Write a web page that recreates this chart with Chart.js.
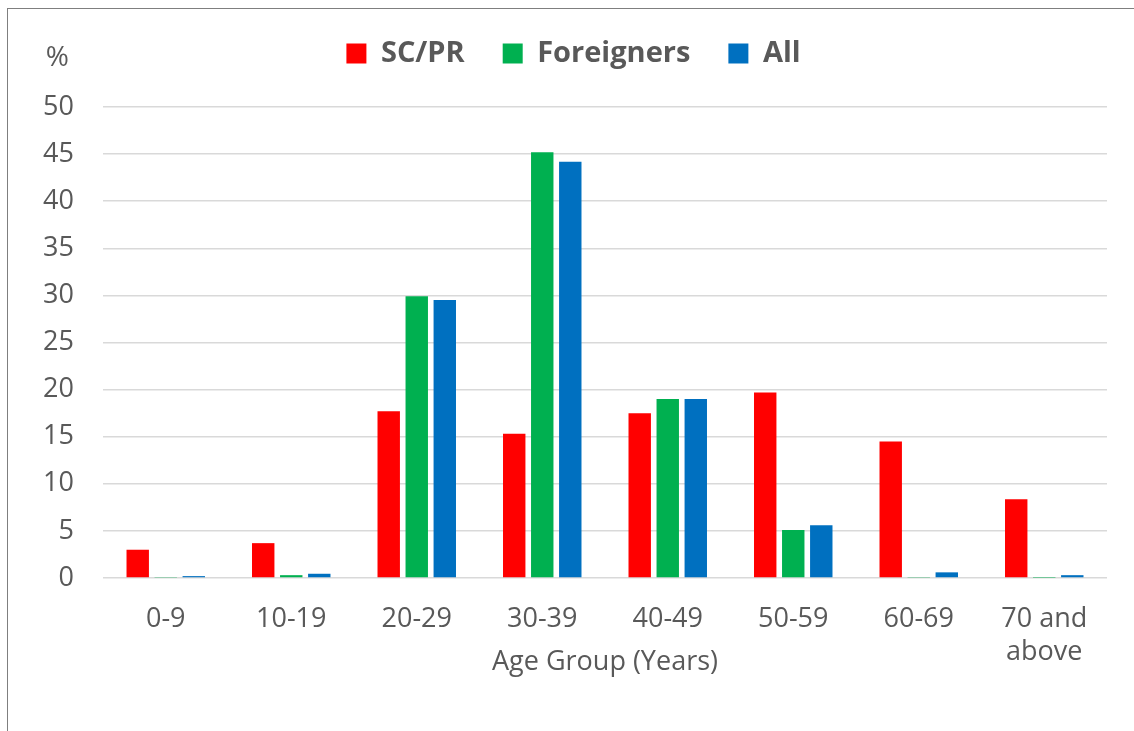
<!DOCTYPE html>
<html>
<head>
<meta charset="utf-8">
<script src="https://cdn.jsdelivr.net/npm/chart.js@4.4.0/dist/chart.umd.min.js"></script>
<style>
  body { margin: 0; background: #fff; overflow: hidden; }
  #frame {
    position: absolute; left: 7px; top: 8px;
    width: 1140px; height: 740px;
    border-left: 1px solid #7f7f7f; border-top: 1px solid #7f7f7f;
  }
  #wrap { width: 1126px; height: 722px; }
</style>
</head>
<body>
<div id="frame"><div id="wrap"><canvas id="barChart"></canvas></div></div>
<script>
const ageGroups = ["0-9", "10-19", "20-29", "30-39", "40-49", "50-59", "60-69", ["70 and", "above"]];
const scpr = [3.0, 3.7, 17.7, 15.3, 17.5, 19.7, 14.5, 8.35];
const foreigners = [0.05, 0.3, 29.9, 45.2, 19.0, 5.1, 0.05, 0.03];
const all = [0.2, 0.45, 29.5, 44.2, 19.0, 5.6, 0.6, 0.3];
const yTicks = [0, 5, 10, 15, 20, 25, 30, 35, 40, 45, 50];

const textColor = "#595959";
const fontFamily = "'Open Sans', sans-serif";

// "%" label above the y axis, and a fixed legend height / offset
const percentLabel = {
  id: "percentLabel",
  beforeUpdate(chart) {
    const legend = chart.legend;
    if (legend && !legend._fixed) {
      const fit = legend.fit;
      legend.fit = function () {
        fit.call(this);
        this.height = 106;
      };
      legend._fixed = true;
    }
  },
  afterLayout(chart) {
    chart.legend.left += 16;
    chart.legend.right += 16;
  },
  afterDraw(chart) {
    const ctx = chart.ctx;
    const area = chart.chartArea;
    ctx.save();
    ctx.fillStyle = textColor;
    ctx.font = "28px " + fontFamily;
    ctx.textAlign = "right";
    ctx.textBaseline = "middle";
    ctx.fillText("%", area.left - 34, area.top - 49);
    ctx.restore();
  },
};

const ctx = document.getElementById("barChart").getContext("2d");
new Chart(ctx, {
  type: "bar",
  data: {
    labels: ageGroups,
    datasets: [
      { label: "SC/PR", data: scpr, backgroundColor: "#ff0000" },
      { label: "Foreigners", data: foreigners, backgroundColor: "#00b050" },
      { label: "All", data: all, backgroundColor: "#0070c0" },
    ],
  },
  options: {
    responsive: true,
    maintainAspectRatio: false,
    animation: false,
    categoryPercentage: 0.67,
    barPercentage: 0.8,
    layout: { padding: { top: -8, right: 27, bottom: 52, left: 0 } },
    plugins: {
      legend: {
        position: "top",
        labels: {
          boxWidth: 20,
          boxHeight: 20,
          padding: 38,
          color: textColor,
          font: { family: fontFamily, size: 29, weight: "bold" },
        },
      },
      tooltip: { enabled: false },
    },
    scales: {
      x: {
        grid: { display: false, drawTicks: false },
        border: { display: false },
        ticks: {
          color: textColor,
          padding: 25,
          maxRotation: 0,
          autoSkip: false,
          font: { family: fontFamily, size: 27, lineHeight: 1.22 },
        },
        title: {
          display: true,
          text: "Age Group (Years)",
          color: textColor,
          padding: { top: 0, bottom: 0 },
          font: { family: fontFamily, size: 27 },
        },
        afterFit(scale) {
          scale.height = 101;
        },
      },
      y: {
        min: 0,
        max: 50,
        afterBuildTicks(scale) {
          scale.ticks = yTicks.map((v) => ({ value: v }));
        },
        grid: { color: "#d9d9d9", lineWidth: 1.5, drawTicks: false },
        border: { display: false },
        ticks: {
          color: textColor,
          padding: 29,
          font: { family: fontFamily, size: 27 },
        },
        afterFit(scale) {
          scale.width = 95;
        },
      },
    },
  },
  plugins: [percentLabel],
});
</script>
</body>
</html>
